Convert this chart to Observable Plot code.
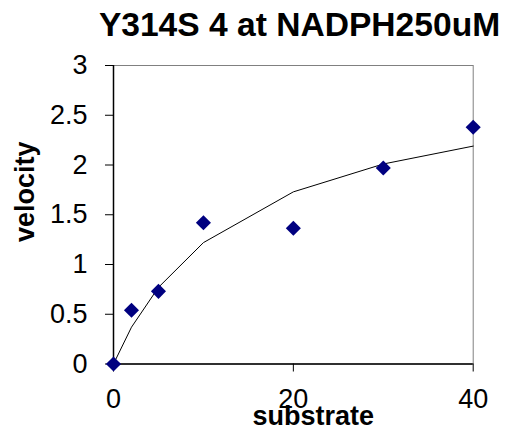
<!DOCTYPE html>
<html>
<head>
<meta charset="utf-8">
<script src="https://cdn.jsdelivr.net/npm/d3@7"></script>
<script src="https://cdn.jsdelivr.net/npm/@observablehq/plot@0.6"></script>
<style>
  html, body { margin: 0; padding: 0; background: #fff; }
  #chart { width: 509px; height: 436px; overflow: hidden; font-family: "Liberation Sans", Arial, sans-serif; }
  #title { height: 50px; line-height: 50px; padding-left: 90px; text-align: center; font-size: 33.6px; font-weight: bold; color: #000; white-space: nowrap; }
</style>
</head>
<body>
<div id="chart">
  <div id="title">Y314S 4 at NADPH250uM</div>
</div>
<script>
// Data
const substrate = [0, 2, 5, 10, 20, 30, 40];
const velocity = [0, 0.54, 0.73, 1.42, 1.365, 1.97, 2.38];
const fitted = [0, 0.37, 0.77, 1.22, 1.73, 2.01, 2.19];
const xTicks = [0, 20, 40];
const yTicks = [0, 0.5, 1, 1.5, 2, 2.5, 3];
const xLabel = "substrate";
const yLabel = "velocity";

const observed = substrate.map((s, i) => ({s, v: velocity[i]}));
const curve = substrate.map((s, i) => ({s, v: fitted[i]}));

const plot = Plot.plot({
  width: 509,
  height: 386,
  marginLeft: 113,
  marginRight: 36.3,
  marginTop: 15,
  marginBottom: 72.5,
  style: {fontSize: "27px", fontFamily: "'Liberation Sans', Arial, sans-serif", color: "#000", background: "#fff"},
  x: {domain: [0, 40]},
  y: {domain: [0, 3]},
  marks: [
    Plot.frame({stroke: "#808080", strokeWidth: 1}),
    Plot.axisX({ticks: xTicks, tickSize: 8, tickPadding: 17, tickFormat: d => `${d}`, label: null, stroke: "#000"}),
    Plot.axisY({ticks: yTicks, tickSize: 8, tickPadding: 18, tickFormat: d => `${d}`, label: null, stroke: "#000"}),
    Plot.ruleX([0], {stroke: "#000", strokeWidth: 1.5}),
    Plot.ruleY([0], {stroke: "#000", strokeWidth: 1.5}),
    Plot.line(curve, {x: "s", y: "v", stroke: "#000", strokeWidth: 1}),
    Plot.dot(observed, {x: "s", y: "v", symbol: "diamond2", r: 6.8, fill: "#000080", stroke: "none"}),
    Plot.text([xLabel], {frameAnchor: "bottom", text: d => d, dx: 20, dy: 52, lineAnchor: "middle", fontWeight: "bold", fontSize: 27}),
    Plot.text([yLabel], {frameAnchor: "left", text: d => d, rotate: -90, dx: -88.6, dy: 27.3, lineAnchor: "middle", fontWeight: "bold", fontSize: 27})
  ]
});
document.getElementById("chart").appendChild(plot);
</script>
</body>
</html>
